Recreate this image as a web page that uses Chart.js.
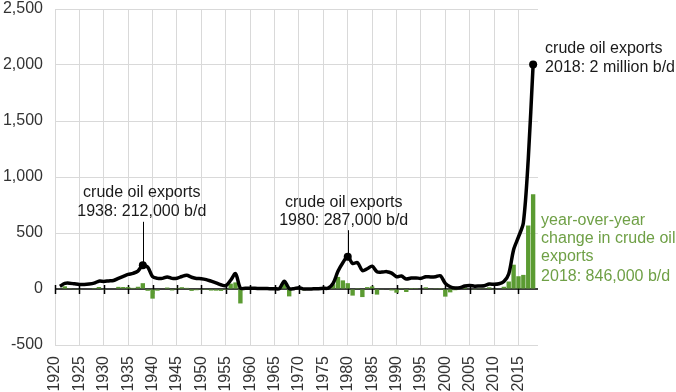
<!DOCTYPE html>
<html>
<head>
<meta charset="utf-8">
<script src="https://cdn.jsdelivr.net/npm/chart.js@4/dist/chart.umd.min.js"></script>
<style>
  html, body { margin: 0; padding: 0; background: #fff; }
  #wrap { width: 676px; height: 392px; }
</style>
</head>
<body>
<div id="wrap"><canvas id="chart"></canvas></div>
<script>
// years 1921-2018
const years = [
  1921, 1922, 1923, 1924, 1925, 1926, 1927, 1928, 1929, 1930,
  1931, 1932, 1933, 1934, 1935, 1936, 1937, 1938, 1939, 1940,
  1941, 1942, 1943, 1944, 1945, 1946, 1947, 1948, 1949, 1950,
  1951, 1952, 1953, 1954, 1955, 1956, 1957, 1958, 1959, 1960,
  1961, 1962, 1963, 1964, 1965, 1966, 1967, 1968, 1969, 1970,
  1971, 1972, 1973, 1974, 1975, 1976, 1977, 1978, 1979, 1980,
  1981, 1982, 1983, 1984, 1985, 1986, 1987, 1988, 1989, 1990,
  1991, 1992, 1993, 1994, 1995, 1996, 1997, 1998, 1999, 2000,
  2001, 2002, 2003, 2004, 2005, 2006, 2007, 2008, 2009, 2010,
  2011, 2012, 2013, 2014, 2015, 2016, 2017, 2018
];

// crude oil exports, thousand b/d
const crudeExports = [
  24, 50, 52, 46, 40, 40, 44, 52, 70, 68,
  72, 76, 95, 113, 130, 140, 160, 212, 196, 110,
  95, 95, 108, 95, 96, 112, 122, 105, 94, 92,
  84, 70, 55, 38, 30, 78, 137, 8, 6, 6,
  6, 4, 4, 3, 3, 4, 70, 4, 3, 12,
  0, 0, 2, 3, 6, 8, 50, 158, 235, 287,
  228, 236, 164, 181, 204, 154, 151, 155, 142, 109,
  116, 89, 98, 99, 95, 110, 108, 110, 118, 50,
  20, 9, 12, 27, 32, 25, 27, 29, 44, 42,
  47, 67, 134, 351, 465, 591, 1158, 2004
];

// year-over-year change, thousand b/d
const yoyChange = [
  4, 24, 2, -6, -6, 0, 4, 8, 18, -2,
  4, 4, 19, 18, 17, 10, 20, 52, -16, -86,
  -15, 0, 13, -13, 1, 16, 10, -17, -11, -2,
  -8, -14, -15, -17, -8, 48, 59, -129, -2, 0,
  0, -2, 0, -1, 0, 1, 66, -66, -1, 9,
  -12, 0, 2, 1, 3, 2, 42, 108, 77, 52,
  -59, 8, -72, 17, 23, -50, -3, 4, -13, -33,
  7, -27, 9, 1, -4, 15, -2, 2, 8, -68,
  -30, -11, 3, 15, 5, -7, 2, 2, 15, -2,
  5, 20, 67, 217, 114, 126, 567, 846
];

const tickYears = [1920, 1925, 1930, 1935, 1940, 1945, 1950, 1955, 1960, 1965,
  1970, 1975, 1980, 1985, 1990, 1995, 2000, 2005, 2010, 2015];
const markedYears = [1938, 1980, 2018];

const FONT = '"Liberation Sans", Arial, sans-serif';
const GRID = '#d9d9d9';
const GREEN = '#5b9b32';
const GREEN_TEXT = '#6fa046';

// zero axis line with tick marks, then the callouts
const notes = {
  id: 'notes',
  beforeDatasetsDraw(chart) {
    const { ctx, chartArea, scales: { x, y } } = chart;
    const y0 = y.getPixelForValue(0);
    ctx.save();
    ctx.strokeStyle = '#000';
    ctx.lineWidth = 1.5;
    ctx.beginPath();
    ctx.moveTo(chartArea.left, y0);
    ctx.lineTo(chartArea.right, y0);
    tickYears.forEach(t => {
      const px = Math.round(x.getPixelForValue(t)) + 0.5;
      ctx.moveTo(px, y0 - 4);
      ctx.lineTo(px, y0 + 5);
    });
    ctx.stroke();
    ctx.restore();
  },
  afterDatasetsDraw(chart) {
    const { ctx, scales: { x, y } } = chart;
    const idx = yr => years.indexOf(yr);
    ctx.save();
    ctx.font = '16px ' + FONT;
    ctx.textBaseline = 'middle';

    // leader lines
    ctx.strokeStyle = '#000';
    ctx.lineWidth = 1;
    [[1938, 600], [1980, 525]].forEach(([yr, top]) => {
      const px = Math.round(x.getPixelForValue(yr)) + 0.5;
      ctx.beginPath();
      ctx.moveTo(px, y.getPixelForValue(top));
      ctx.lineTo(px, y.getPixelForValue(crudeExports[idx(yr)]));
      ctx.stroke();
    });

    ctx.fillStyle = '#1a1a1a';
    ctx.textAlign = 'center';
    let cx = x.getPixelForValue(1938) - 1;
    ctx.fillText('crude oil exports', cx, y.getPixelForValue(857));
    ctx.fillText('1938: 212,000 b/d', cx, y.getPixelForValue(687));
    cx = x.getPixelForValue(1980) - 4;
    ctx.fillText('crude oil exports', cx, y.getPixelForValue(770));
    ctx.fillText('1980: 287,000 b/d', cx, y.getPixelForValue(610));

    ctx.textAlign = 'left';
    const lx = x.getPixelForValue(2018) + 12;
    ctx.fillText('crude oil exports', lx, y.getPixelForValue(2143));
    ctx.fillText('2018: 2 million b/d', lx, y.getPixelForValue(1973));

    ctx.fillStyle = GREEN_TEXT;
    const gx = x.getPixelForValue(2018) + 8;
    ctx.fillText('year-over-year', gx, y.getPixelForValue(607));
    ctx.fillText('change in crude oil', gx, y.getPixelForValue(446));
    ctx.fillText('exports', gx, y.getPixelForValue(286));
    ctx.fillText('2018: 846,000 b/d', gx, y.getPixelForValue(110));
    ctx.restore();
  }
};

new Chart(document.getElementById('chart'), {
  type: 'bar',
  data: {
    datasets: [
      {
        type: 'line',
        label: 'crude oil exports',
        data: years.map((yr, i) => ({ x: yr, y: crudeExports[i] })),
        borderColor: '#000',
        backgroundColor: '#000',
        borderWidth: 3.5,
        tension: 0.3,
        pointRadius: ctx => markedYears.includes(years[ctx.dataIndex]) ? 4 : 0,
        pointBackgroundColor: '#000',
        pointBorderWidth: 0,
        order: 0
      },
      {
        label: 'year-over-year change',
        data: years.map((yr, i) => ({ x: yr, y: yoyChange[i] })),
        backgroundColor: GREEN,
        barPercentage: 0.9,
        categoryPercentage: 1,
        order: 1
      }
    ]
  },
  options: {
    responsive: true,
    maintainAspectRatio: false,
    animation: false,
    layout: { padding: { left: 3, right: 138, top: 0, bottom: 0 } },
    plugins: {
      legend: { display: false },
      tooltip: { enabled: false }
    },
    scales: {
      x: {
        type: 'linear',
        min: 1920,
        max: 2019,
        offset: false,
        afterBuildTicks: scale => {
          scale.ticks = tickYears.map(v => ({ value: v }));
        },
        afterFit: scale => {
          scale.height = 47;
          scale.paddingLeft = 0;
          scale.paddingRight = 0;
        },
        ticks: {
          autoSkip: false,
          minRotation: 90,
          maxRotation: 90,
          padding: 11,
          color: '#333',
          font: { family: FONT, size: 16 },
          callback: v => String(v)
        },
        grid: { color: GRID, drawTicks: false, offset: false },
        border: { display: false }
      },
      y: {
        min: -500,
        max: 2500,
        afterFit: scale => {
          scale.width = 52;
          scale.paddingTop = 9;
          scale.paddingBottom = 0;
        },
        ticks: {
          stepSize: 500,
          padding: 12,
          color: '#333',
          font: { family: FONT, size: 16 },
          callback: v => v.toLocaleString('en-US')
        },
        grid: {
          color: ctx => ctx.tick && ctx.tick.value === 0 ? 'rgba(0,0,0,0)' : GRID,
          drawTicks: false
        },
        border: { display: false }
      }
    }
  },
  plugins: [notes]
});
</script>
</body>
</html>
